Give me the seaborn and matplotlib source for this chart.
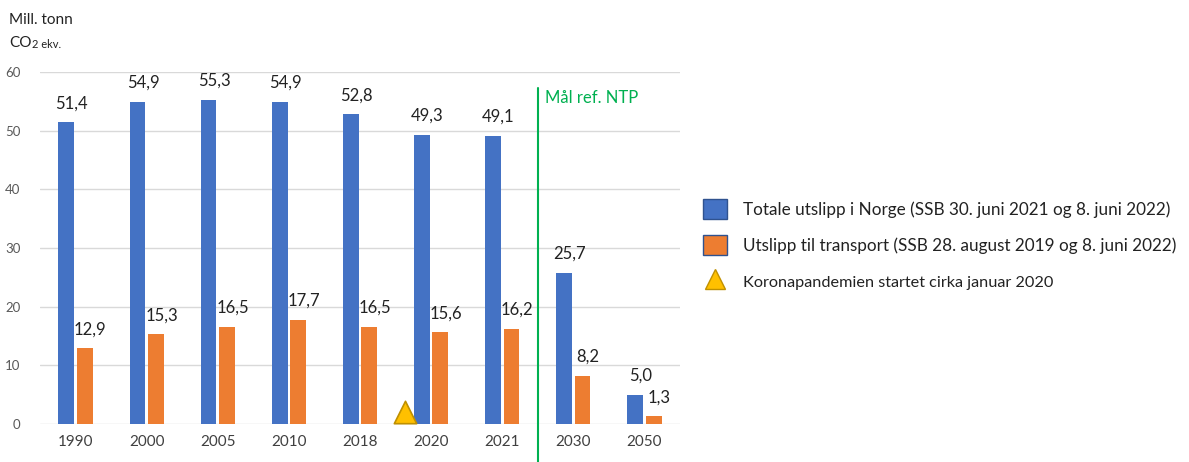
import matplotlib
matplotlib.use("Agg")
import matplotlib.pyplot as plt
import seaborn as sns
import pandas as pd
from matplotlib.patches import Patch
from matplotlib.lines import Line2D

years = ["1990", "2000", "2005", "2010", "2018", "2020", "2021", "2030", "2050"]
total = [51.4, 54.9, 55.3, 54.9, 52.8, 49.3, 49.1, 25.7, 5.0]
transport = [12.9, 15.3, 16.5, 17.7, 16.5, 15.6, 16.2, 8.2, 1.3]
series_names = ["Totale utslipp i Norge (SSB 30. juni 2021 og 8. juni 2022)",
                "Utslipp til transport (SSB 28. august 2019 og 8. juni 2022)"]
corona_label = "Koronapandemien startet cirka januar 2020"
corona_year = "2020"
corona_value = 2.0
target_label = "Mål ref. NTP"

sns.set_theme(style="white")
plt.rcParams['font.family'] = ['Lato', 'DejaVu Sans']

df = pd.DataFrame({
    "year": years * 2,
    "value": total + transport,
    "series": [series_names[0]] * len(years) + [series_names[1]] * len(years),
})

blue = "#4472C4"
orange = "#ED7D31"

fig = plt.figure(figsize=(11.89, 4.62), dpi=100)
ax = fig.add_axes([40 / 1189, 38 / 462, 640 / 1189, 352 / 462])

sns.barplot(data=df, x="year", y="value", hue="series", order=years,
            hue_order=series_names, palette=[blue, orange], width=0.52,
            gap=0.15, ax=ax, legend=False, saturation=1, linewidth=0)

ax.set_ylim(0, 60)
ax.set_xlim(-0.5, len(years) - 0.5)
ax.set_yticks(range(0, 61, 10))
ax.yaxis.grid(True, color="#D9D9D9", linewidth=1)
ax.set_axisbelow(True)
for s in ax.spines.values():
    s.set_visible(False)
ax.set_xlabel("")
ax.set_ylabel("")
ax.tick_params(axis="x", length=0, labelsize=11, labelcolor="#404040", pad=8)
ax.tick_params(axis="y", length=0, labelsize=9.5, labelcolor="#595959", pad=14)

for cont in ax.containers:
    anns = ax.bar_label(cont, labels=[f"{v:.1f}".replace(".", ",") for v in cont.datavalues],
                        padding=8, fontsize=12, color="#222222")
    for a in anns:
        a.xyann = (4, 8)

# green target line
xi = years.index("2021") + 0.5
ax.axvline(xi, ymin=-0.108, ymax=0.955, color="#00B050", linewidth=1.5, clip_on=False)
ax.text(xi + 0.1, 55.5, target_label, color="#00B050", fontsize=12, va="center", ha="left")

# corona triangle
cx = years.index(corona_year) - 0.37
ax.scatter([cx], [corona_value], marker="^", s=260, color="#FFC000",
           edgecolor="#BF9000", linewidth=1.2, zorder=5, clip_on=False)

# unit labels
t1 = fig.text(9 / 1189, 1 - 20 / 462, "Mill. tonn", fontsize=11, color="#222222", va="center")
t2 = fig.text(9 / 1189, 1 - 47 / 462, "CO", fontsize=11, color="#222222", va="baseline")
ax.annotate("2 ekv.", xy=(1, 0), xycoords=t2, fontsize=8, color="#222222",
            va="bottom", ha="left")

handles = [
    Patch(facecolor=blue, edgecolor="#2F528F", linewidth=1),
    Patch(facecolor=orange, edgecolor="#2F528F", linewidth=1),
    Line2D([], [], marker="^", linestyle="none", markersize=15,
           markerfacecolor="#FFC000", markeredgecolor="#BF9000"),
]
leg = fig.legend(handles, series_names + [corona_label], loc="upper left",
                 bbox_to_anchor=(688 / 1189, 1 - 184 / 462), frameon=False,
                 fontsize=12.3, labelspacing=0.95, handlelength=1.4, handleheight=1.4,
                 handletextpad=0.9, labelcolor="#222222")
leg.get_texts()[2].set_fontsize(11.7)

fig.savefig("out.png", dpi=100)
